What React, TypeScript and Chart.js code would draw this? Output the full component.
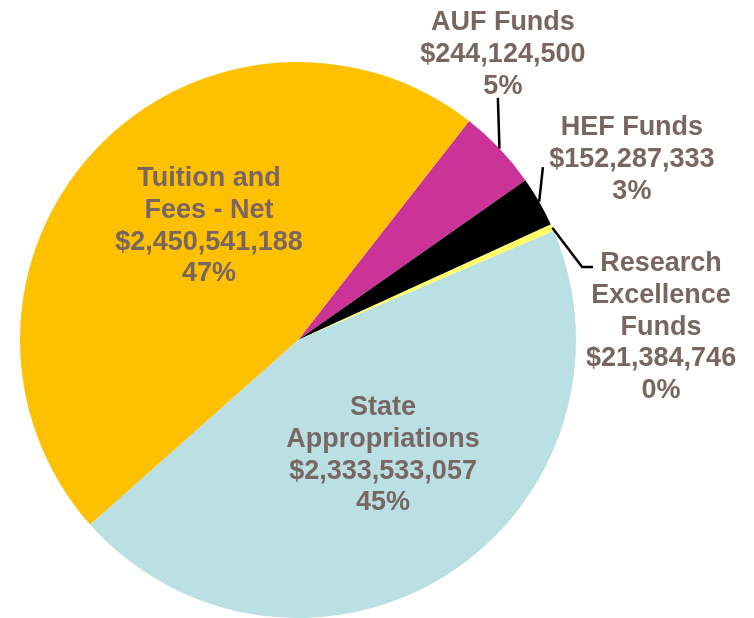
import React, { useEffect, useRef } from "react";
import { Chart, registerables } from "chart.js";

Chart.register(...registerables);

const categories = [
  "AUF Funds",
  "HEF Funds",
  "Research Excellence Funds",
  "State Appropriations",
  "Tuition and Fees - Net",
];
const amounts = [244124500, 152287333, 21384746, 2333533057, 2450541188];
const percentLabels = ["5%", "3%", "0%", "45%", "47%"];
const nameLines = [
  ["AUF Funds"],
  ["HEF Funds"],
  ["Research", "Excellence", "Funds"],
  ["State", "Appropriations"],
  ["Tuition and", "Fees - Net"],
];
const sliceColors = ["#CC3399", "#000000", "#FFFF66", "#BAE0E4", "#FFC000"];

// label layout (relative to pie centre, in units of radius)
const labelAnchors = [
  [0.737, -1.115],
  [1.201, -0.737],
  [1.306, -0.248],
  [0.306, 0.27],
  [-0.32, -0.554],
];
// leader lines: list of points after the slice edge point (units of radius), null = none
const leaderPoints: (number[][] | null)[] = [
  [[0.719, -0.871]],
  [[0.881, -0.622]],
  [
    [1.022, -0.263],
    [1.061, -0.263],
  ],
  null,
  null,
];

const fmtMoney = (v: number) => "$" + v.toLocaleString("en-US");

const labelPlugin = {
  id: "pieLabels",
  afterDraw(chart: any) {
    const ctx = chart.ctx;
    const meta = chart.getDatasetMeta(0);
    ctx.save();
    meta.data.forEach((arc: any, i: number) => {
      const p = arc.getProps(["x", "y", "startAngle", "endAngle", "outerRadius"], true);
      const R = p.outerRadius;
      const mid = (p.startAngle + p.endAngle) / 2;
      const lp = leaderPoints[i];
      if (lp) {
        ctx.beginPath();
        ctx.strokeStyle = "#000000";
        ctx.lineWidth = 2.5;
        ctx.moveTo(p.x + Math.cos(mid) * R, p.y + Math.sin(mid) * R);
        lp.forEach((pt) => ctx.lineTo(p.x + pt[0] * R, p.y + pt[1] * R));
        ctx.stroke();
      }
      const lines = [...nameLines[i], fmtMoney(amounts[i]), percentLabels[i]];
      const ax = p.x + labelAnchors[i][0] * R;
      const ay = p.y + labelAnchors[i][1] * R;
      ctx.fillStyle = "#786662";
      ctx.font = "bold 27px 'Liberation Sans', Arial, sans-serif";
      ctx.textAlign = "center";
      ctx.textBaseline = "alphabetic";
      lines.forEach((t, k) => ctx.fillText(t, ax, ay + k * 31.8));
    });
    ctx.restore();
  },
};

export default function App() {
  const ref = useRef<HTMLCanvasElement | null>(null);
  useEffect(() => {
    if (!ref.current) return;
    const chart = new Chart(ref.current, {
      type: "pie",
      data: {
        labels: categories,
        datasets: [
          {
            data: amounts,
            backgroundColor: sliceColors,
            borderWidth: 0,
          },
        ],
      },
      options: {
        animation: false,
        responsive: false,
        rotation: 38,
        layout: { padding: { left: 20, right: 178, top: 62, bottom: 0 } },
        plugins: {
          legend: { display: false },
          tooltip: { enabled: false },
        },
      },
      plugins: [labelPlugin],
    });
    return () => chart.destroy();
  }, []);
  return (
    <div style={{ position: "fixed", left: 0, top: 0, width: 754, height: 618, background: "#ffffff" }}>
      <canvas ref={ref} width={754} height={618} style={{ width: 754, height: 618, display: "block" }} />
    </div>
  );
}
